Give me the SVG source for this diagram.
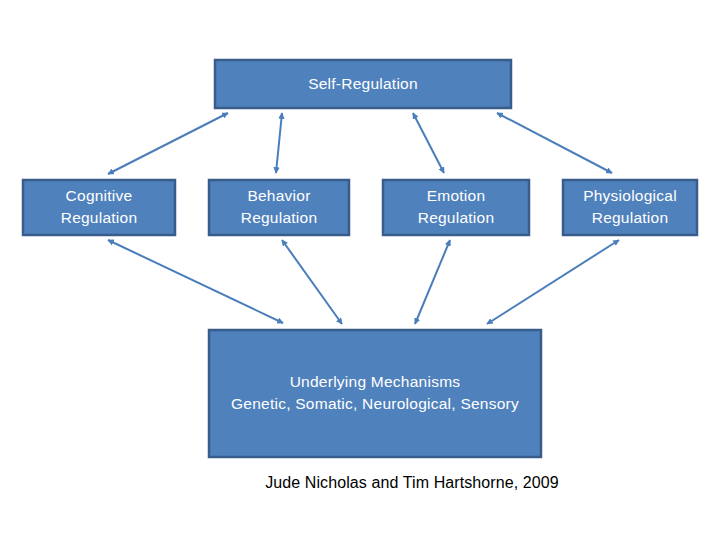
<svg xmlns="http://www.w3.org/2000/svg" width="720" height="540" viewBox="0 0 720 540">
<style>
.box{fill:#4f81bd;stroke:#385d8a;stroke-width:2.5}
.lbl{font-family:"Liberation Sans",Arial,sans-serif;font-size:15.5px;letter-spacing:0.25px;fill:#ffffff;text-anchor:middle}
.foot{font-family:"Liberation Sans",Arial,sans-serif;font-size:16px;letter-spacing:0.1px;fill:#000000;text-anchor:middle}
.con{stroke:#4a7ebb;stroke-width:2;fill:none;marker-start:url(#ah);marker-end:url(#ah)}
</style>
<defs>
<marker id="ah" viewBox="0 0 10 10" refX="9" refY="5" markerWidth="3.2" markerHeight="3.2" orient="auto-start-reverse" markerUnits="strokeWidth">
<path d="M0,0 L10,5 L0,10 z" fill="#4a7ebb"/>
</marker>
</defs>
<rect width="720" height="540" fill="#ffffff"/>
<g id="connectors">
<line class="con" x1="228" y1="113" x2="108" y2="174"/>
<line class="con" x1="282" y1="113" x2="276" y2="173"/>
<line class="con" x1="413" y1="113" x2="444" y2="173"/>
<line class="con" x1="497" y1="113" x2="612" y2="173"/>
<line class="con" x1="108" y1="240" x2="283" y2="323"/>
<line class="con" x1="282" y1="240" x2="342" y2="324"/>
<line class="con" x1="450" y1="240" x2="415" y2="324"/>
<line class="con" x1="619" y1="240" x2="487" y2="324"/>
</g>
<g id="self-regulation">
<rect class="box" x="215" y="60" width="296" height="48"/>
<text class="lbl" x="363" y="89">Self-Regulation</text>
</g>
<g id="cognitive">
<rect class="box" x="23" y="180" width="152" height="55"/>
<text class="lbl" x="99" y="201">Cognitive</text>
<text class="lbl" x="99" y="223">Regulation</text>
</g>
<g id="behavior">
<rect class="box" x="209" y="180" width="140" height="55"/>
<text class="lbl" x="279" y="201">Behavior</text>
<text class="lbl" x="279" y="223">Regulation</text>
</g>
<g id="emotion">
<rect class="box" x="383" y="180" width="146" height="55"/>
<text class="lbl" x="456" y="201">Emotion</text>
<text class="lbl" x="456" y="223">Regulation</text>
</g>
<g id="physiological">
<rect class="box" x="563" y="180" width="134" height="55"/>
<text class="lbl" x="630" y="201">Physiological</text>
<text class="lbl" x="630" y="223">Regulation</text>
</g>
<g id="underlying">
<rect class="box" x="209" y="330" width="332" height="127"/>
<text class="lbl" x="375" y="387">Underlying Mechanisms</text>
<text class="lbl" x="375" y="409">Genetic, Somatic, Neurological, Sensory</text>
</g>
<g id="credit">
<text class="foot" x="412" y="488">Jude Nicholas and Tim Hartshorne, 2009</text>
</g>
</svg>
